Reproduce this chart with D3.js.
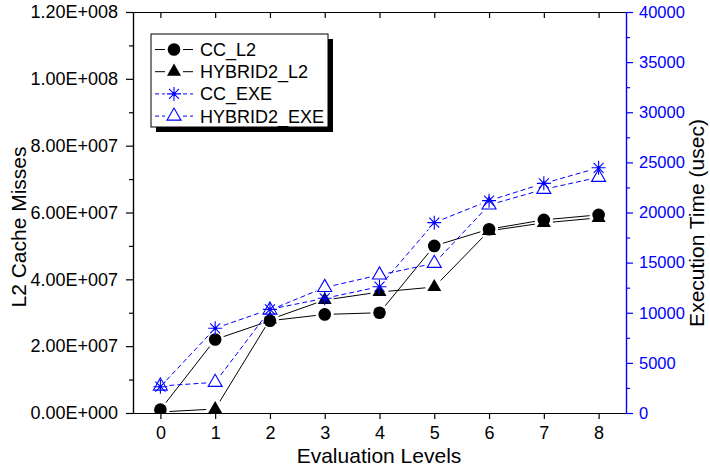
<!DOCTYPE html>
<html>
<head>
<meta charset="utf-8">
<script src="https://cdn.jsdelivr.net/npm/d3@7"></script>
<style>
  body { margin: 0; background: #fff; }
  svg { display: block; }
  text { font-family: "Liberation Sans", Arial, sans-serif; }
</style>
</head>
<body>
<div class="center"></div>
<script>
// data
var levels = [0, 1, 2, 3, 4, 5, 6, 7, 8];
var ccL2 = [1.0e6, 2.2e7, 2.76e7, 2.95e7, 3.0e7, 5.0e7, 5.5e7, 5.78e7, 5.93e7];
var hybridL2 = [0.3e6, 1.2e6, 2.8e7, 3.38e7, 3.62e7, 3.77e7, 5.45e7, 5.69e7, 5.84e7];
var ccExe = [2620, 8450, 10340, 11440, 12600, 18990, 21180, 22910, 24460];
var hybridExe = [2690, 3060, 10270, 12520, 13770, 14930, 20750, 22310, 23510];

var leftTicks = [0, 2e7, 4e7, 6e7, 8e7, 1e8, 1.2e8];
var leftMinor = [1e7, 3e7, 5e7, 7e7, 9e7, 1.1e8];
var rightTicks = [0, 5000, 10000, 15000, 20000, 25000, 30000, 35000, 40000];
var rightMinor = [2500, 7500, 12500, 17500, 22500, 27500, 32500, 37500];

var blue = "#0000ff";

// canvas / plot dimensions
var margin = {top: 12, right: 84, bottom: 58, left: 133},
    width = 710 - margin.left - margin.right,
    height = 471 - margin.top - margin.bottom;

// scales
var x = d3.scaleLinear().domain([-0.5, 8.5]).range([0, width]);
var yL = d3.scaleLinear().domain([0, 1.2e8]).range([height, 0]);
var yR = d3.scaleLinear().domain([0, 40000]).range([height, 0]);

var svg = d3.select(".center").append("svg")
    .attr("width", 710)
    .attr("height", 471)
    .append("g")
    .attr("transform", "translate(" + margin.left + "," + margin.top + ")");

svg.append("clipPath").attr("id", "plotclip")
    .append("rect").attr("width", width).attr("height", height);

// 0.00E+000 style labels
function sci(v) {
    var s = d3.format(".2e")(v).split("e");
    var e = +s[1];
    return s[0] + "E" + (e < 0 ? "-" : "+") + d3.format("03d")(Math.abs(e));
}

// marker shapes
var circlePath = d3.symbol().type(d3.symbolCircle).size(125)();
var triPath = d3.symbol().type(d3.symbolTriangle).size(85)();
var starPath = "M-7,0H7M0,-7V7M-5,-5L5,5M-5,5L5,-5";

var series = [
    {name: "CC_L2", vals: ccL2, y: yL, color: "#000", dash: null, marker: "circle"},
    {name: "HYBRID2_L2", vals: hybridL2, y: yL, color: "#000", dash: null, marker: "tri"},
    {name: "CC_EXE", vals: ccExe, y: yR, color: blue, dash: "5,3", marker: "star"},
    {name: "HYBRID2_EXE", vals: hybridExe, y: yR, color: blue, dash: "5,3", marker: "opentri"}
];

// line segments leave a small gap round each marker
function gappedPath(pts, gap) {
    var d = "";
    for (var i = 0; i < pts.length - 1; i++) {
        var a = pts[i], b = pts[i + 1];
        var dx = b[0] - a[0], dy = b[1] - a[1];
        var len = Math.sqrt(dx * dx + dy * dy);
        if (len <= 2 * gap) continue;
        var ux = dx / len, uy = dy / len;
        d += "M" + (a[0] + ux * gap) + "," + (a[1] + uy * gap) +
             "L" + (b[0] - ux * gap) + "," + (b[1] - uy * gap);
    }
    return d;
}

function drawMarker(g, type, color) {
    if (type == "circle") {
        g.append("path").attr("d", circlePath).attr("fill", color);
    } else if (type == "tri") {
        g.append("path").attr("d", triPath).attr("fill", color);
    } else if (type == "opentri") {
        g.append("path").attr("d", triPath).attr("fill", "none")
            .attr("stroke", color).attr("stroke-width", 1.1);
    } else {
        g.append("path").attr("d", starPath).attr("fill", "none")
            .attr("stroke", color).attr("stroke-width", 1.1);
        g.append("circle").attr("r", 1.8).attr("fill", color);
    }
}

var plot = svg.append("g").attr("clip-path", "url(#plotclip)");

// draw order: black first, blue on top
[1, 0, 3, 2].forEach(function(k) {
    var s = series[k];
    var pts = levels.map(function(l, i) { return [x(l), s.y(s.vals[i])]; });
    plot.append("path")
        .attr("d", gappedPath(pts, 9))
        .attr("fill", "none")
        .attr("stroke", s.color)
        .attr("stroke-width", 1)
        .attr("stroke-dasharray", s.dash);
    pts.forEach(function(p) {
        var g = plot.append("g").attr("transform", "translate(" + p[0] + "," + p[1] + ")");
        drawMarker(g, s.marker, s.color);
    });
});

// bottom axis
var xAxis = svg.append("g")
    .attr("transform", "translate(0," + height + ")")
    .call(d3.axisBottom(x).tickValues(levels).tickFormat(d3.format("d"))
        .tickSize(6).tickPadding(7).tickSizeOuter(0));

// top axis, ticks point inward
svg.append("g")
    .call(d3.axisTop(x).tickValues(levels).tickFormat("")
        .tickSize(-6).tickSizeOuter(0));

// left axis
var yAxisL = svg.append("g")
    .call(d3.axisLeft(yL).tickValues(leftTicks).tickFormat(sci)
        .tickSize(7).tickPadding(8).tickSizeOuter(0));
svg.append("g")
    .call(d3.axisLeft(yL).tickValues(leftMinor).tickFormat("")
        .tickSize(4).tickSizeOuter(0));

// right axis in blue
var yAxisR = svg.append("g")
    .attr("transform", "translate(" + width + ",0)")
    .call(d3.axisRight(yR).tickValues(rightTicks).tickFormat(d3.format("d"))
        .tickSize(7).tickPadding(6).tickSizeOuter(0));
var yMinorR = svg.append("g")
    .attr("transform", "translate(" + width + ",0)")
    .call(d3.axisRight(yR).tickValues(rightMinor).tickFormat("")
        .tickSize(4).tickSizeOuter(0));

svg.selectAll(".domain").attr("stroke", "#000").attr("stroke-width", 1.2);
svg.selectAll(".tick line").attr("stroke", "#000").attr("stroke-width", 1.2);
yAxisR.selectAll(".domain, .tick line").attr("stroke", blue);
yMinorR.selectAll(".domain, .tick line").attr("stroke", blue);
yAxisR.selectAll("text").attr("fill", blue);

xAxis.selectAll("text").style("font-size", "18px").attr("fill", "#000");
yAxisL.selectAll("text").style("font-size", "18px").attr("fill", "#000");
yAxisR.selectAll("text").style("font-size", "16.5px");

// axis titles
svg.append("text")
    .attr("x", 379 - margin.left)
    .attr("y", 463 - margin.top)
    .attr("text-anchor", "middle")
    .style("font-size", "21px")
    .text("Evaluation Levels");

svg.append("text")
    .attr("transform", "translate(" + (19 - margin.left) + "," + (227 - margin.top) + ") rotate(-90)")
    .attr("dy", "0.35em")
    .attr("text-anchor", "middle")
    .style("font-size", "21px")
    .text("L2 Cache Misses");

svg.append("text")
    .attr("transform", "translate(" + (697 - margin.left) + "," + (223 - margin.top) + ") rotate(-90)")
    .attr("dy", "0.35em")
    .attr("text-anchor", "middle")
    .style("font-size", "21px")
    .text("Execution Time (usec)");

// legend with drop shadow
var lg = svg.append("g").attr("transform", "translate(" + (151 - margin.left) + "," + (34 - margin.top) + ")");
lg.append("rect").attr("x", 5).attr("y", 5).attr("width", 177).attr("height", 93).attr("fill", "#000");
lg.append("rect").attr("width", 177).attr("height", 93).attr("fill", "#fff")
    .attr("stroke", "#000").attr("stroke-width", 1);

series.forEach(function(s, i) {
    var cy = 15.5 + i * 22.2;
    var row = lg.append("g").attr("transform", "translate(0," + cy + ")");
    row.append("path")
        .attr("d", "M4,0H14M32,0H42")
        .attr("stroke", s.color)
        .attr("stroke-width", 1)
        .attr("stroke-dasharray", s.dash ? "4,3" : null);
    var m = row.append("g").attr("transform", "translate(23,0)");
    drawMarker(m, s.marker, s.color);
    row.append("text")
        .attr("x", 49)
        .attr("y", 6.5)
        .style("font-size", "18px")
        .text(s.name);
});
</script>
</body>
</html>
